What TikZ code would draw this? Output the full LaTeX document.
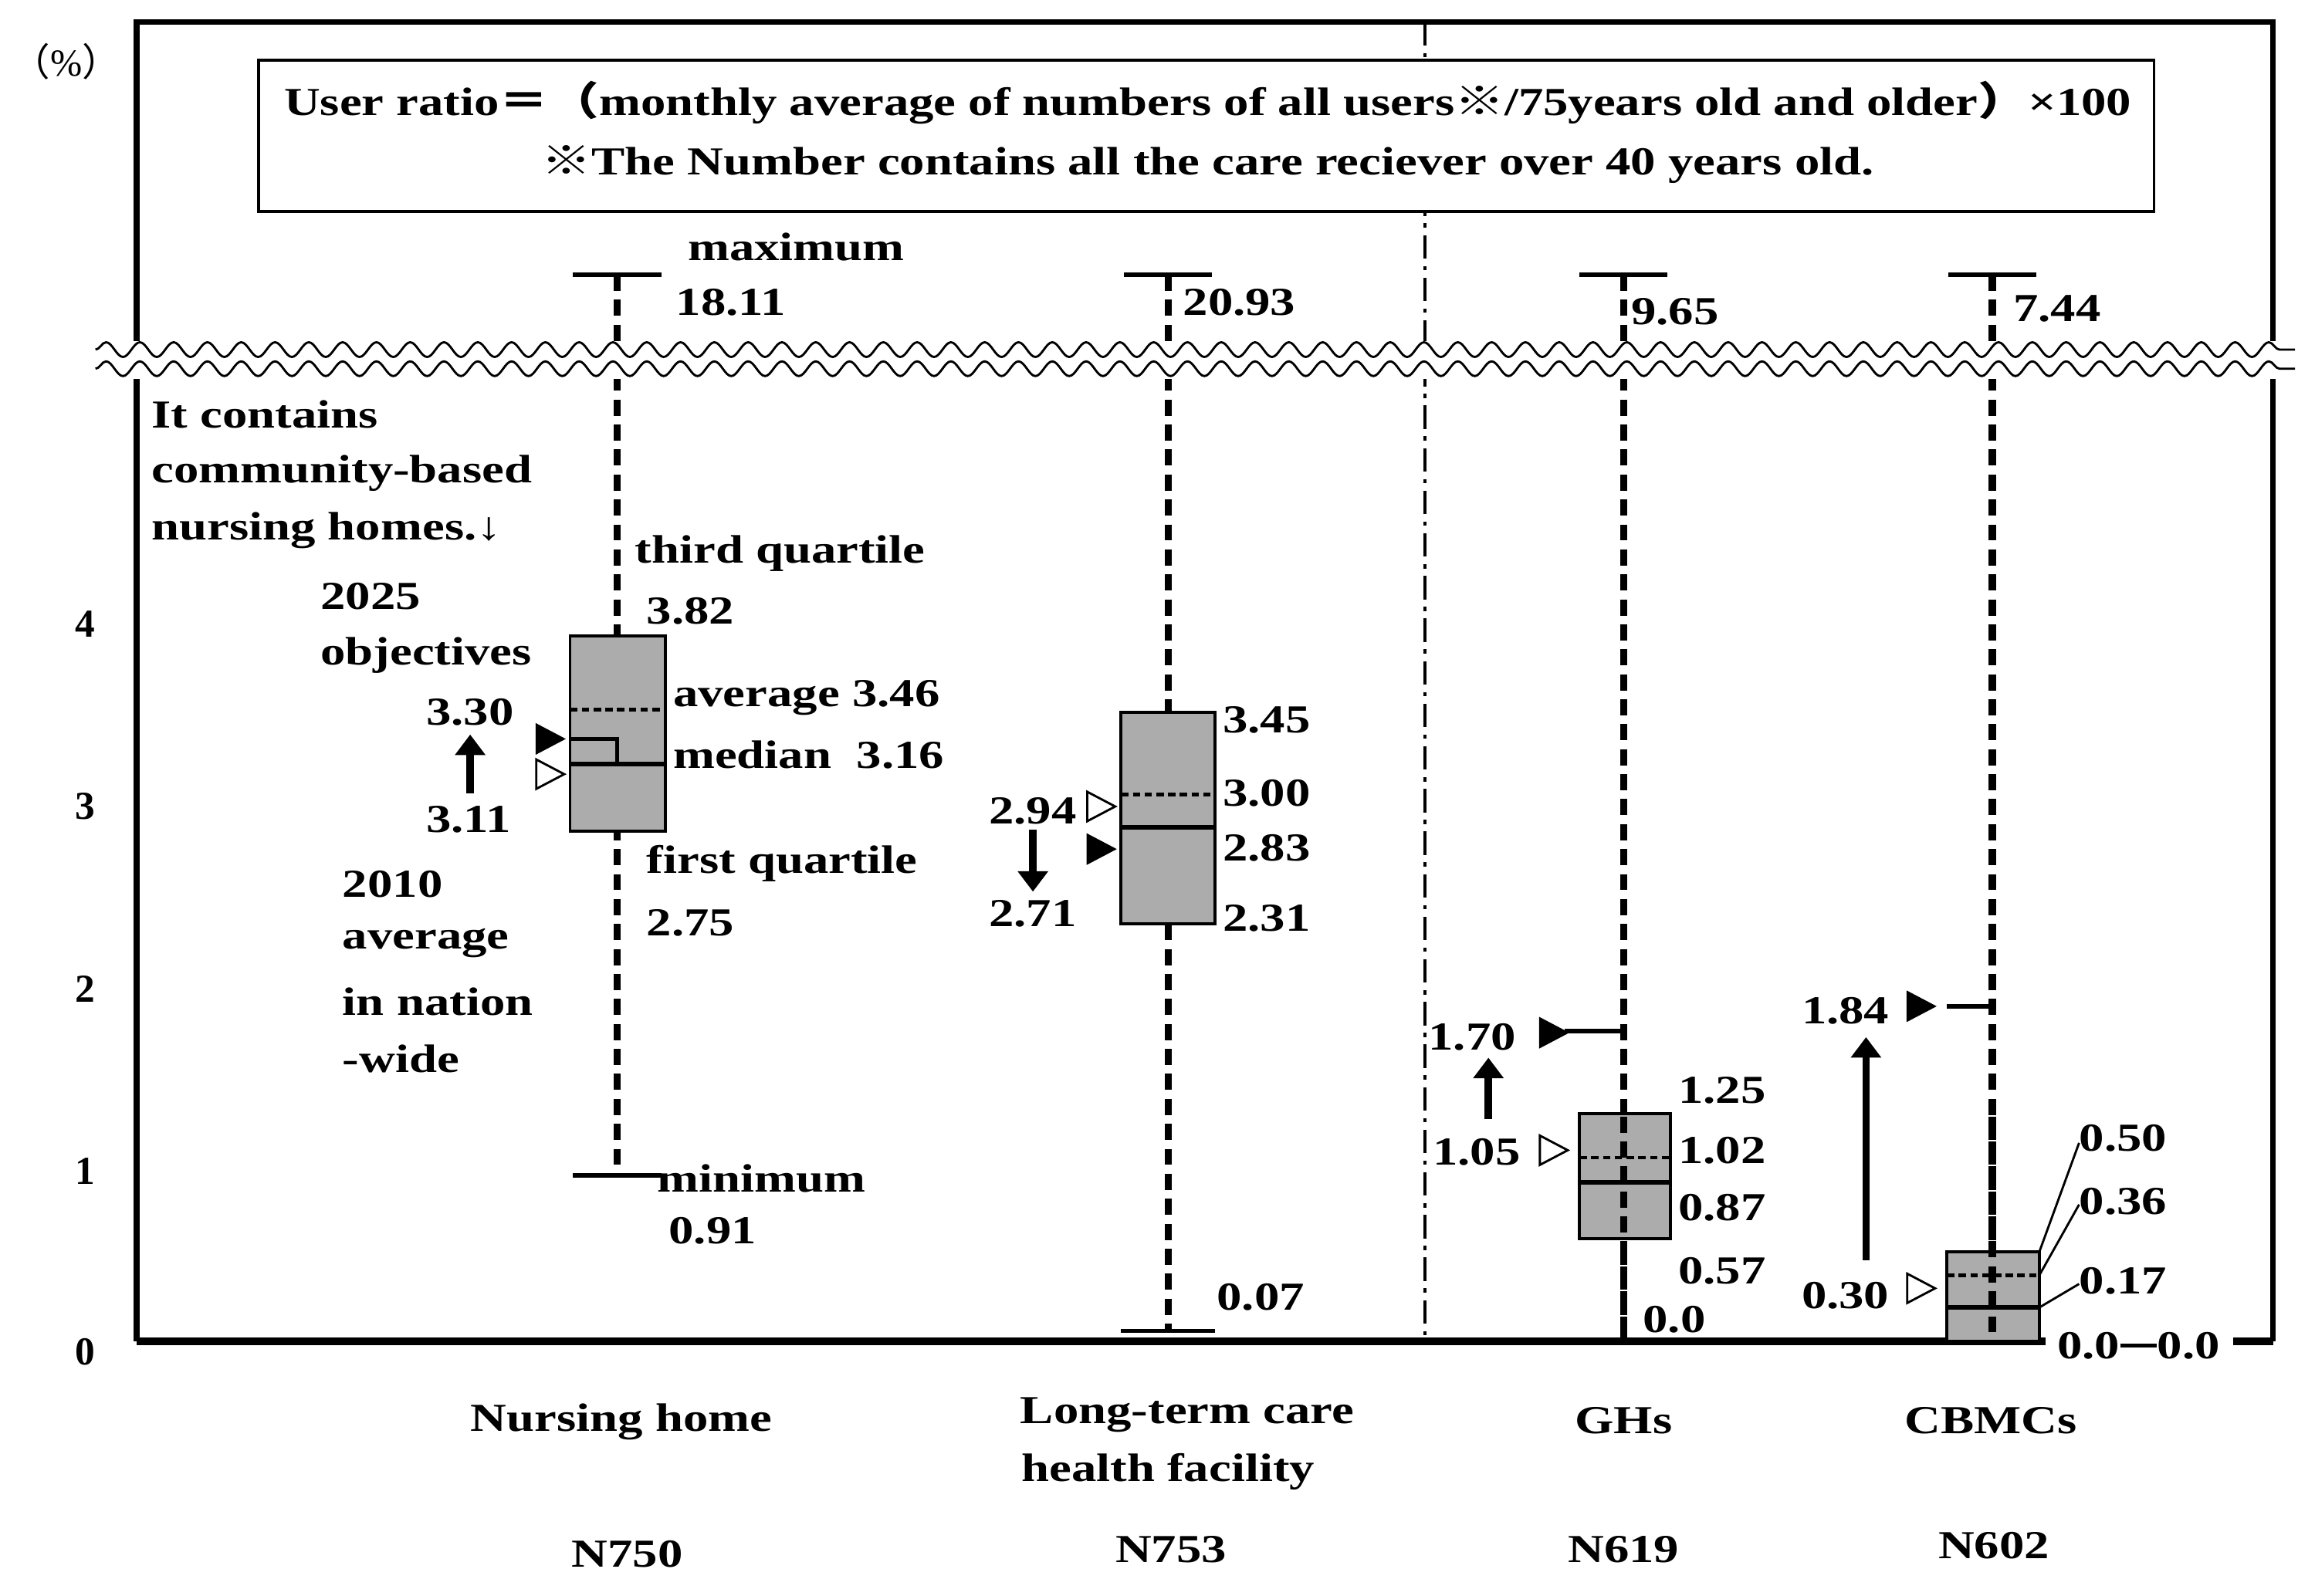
\documentclass[tikz,border=0pt]{standalone}
\usepackage{fontspec}
\setmainfont{Liberation Serif}
\newfontfamily\cjk{Noto Sans CJK JP}
\usetikzlibrary{decorations.pathmorphing,arrows.meta}
\newcommand\wtx[1]{\scalebox{1.26}[1]{#1}}
\begin{document}
\begin{tikzpicture}[x=1pt,y=-1pt,
  lbl/.style={anchor=west,inner sep=0pt,font=\fontsize{27}{30}\selectfont\bfseries},
  ctr/.style={inner sep=0pt,font=\fontsize{27}{30}\selectfont\bfseries},
  whisk/.style={line width=5pt,dash pattern=on 11pt off 6pt},
  box/.style={draw=black,line width=2pt,fill=gray!65},
  bar/.style={line width=3pt},
  med/.style={line width=3pt},
  avg/.style={line width=2.5pt,dash pattern=on 5pt off 3pt},
  tf/.style={fill=black,draw=black,line width=1pt},
  to/.style={fill=white,draw=black,line width=1.5pt},
  barrow/.style={line width=5pt,-{Triangle[length=14pt,width=20pt]}},
  wave/.style={decorate,decoration={snake,segment length=23pt,amplitude=5pt},line width=1.5pt}]
\useasboundingbox (0,0) rectangle (1564,1086);
% frame
\draw[line width=4pt] (93,913) -- (93,15) -- (1547,15) -- (1547,913);
\draw[line width=5pt] (93,913) -- (1547,913);
\draw[line width=2pt,dash pattern=on 16pt off 5pt on 3pt off 5pt] (970,15) -- (970,913);
% header
\node[draw,line width=2pt,fill=white,minimum width=1290pt,minimum height=103pt,anchor=north west] (hdr) at (175,40) {};
\node[ctr] (h1) at (822,70) {\wtx{User ratio{\cjk ＝（}monthly average of numbers of all users{\cjk ※}/75years old and older{\cjk ）}×100}};
\node[ctr] (h2) at (822,112) {\wtx{{\cjk ※}The Number contains all the care reciever over 40 years old.}};
\node[ctr] (pct) at (45,42) {\fontsize{26}{30}\selectfont\mdseries{\cjk （}\%{\cjk ）}};
% y labels
\foreach \v/\yy in {4/425,3/549,2/673,1/797,0/920} \node[ctr] (y\v) at (58,\yy) {\v};
% whiskers
\draw[whisk] (420,187) -- (420,800);
\draw[whisk] (795,187) -- (795,906);
\draw[whisk] (1105,187) -- (1105,913);
\draw[whisk] (1356,187) -- (1356,913);
% max bars
\foreach \c in {420,795,1105,1356} \draw[bar] (\c-30,187) -- (\c+30,187);
\draw[bar] (390,800) -- (450,800);
\draw[bar] (763,906) -- (827,906);
\draw[bar] (1065,702) -- (1105,702);
\draw[bar] (1325,685) -- (1356,685);
% waves
\fill[white] (60,232) rectangle (1564,258);
\draw[wave] (65,238) -- (1562,238);
\draw[wave] (65,251) -- (1562,251);
% boxes
\draw[box] (388,433) rectangle (453,566);
\draw[avg] (388,483) -- (453,483); \draw[med] (388,520) -- (453,520);
\draw[med] (388,503) -- (420,503) -- (420,520);
\draw[box] (763,485) rectangle (827,629);
\draw[avg] (763,541) -- (827,541); \draw[med] (763,563) -- (827,563);
\draw[box] (1075,758) rectangle (1137,843);
\draw[avg] (1075,788) -- (1137,788); \draw[med] (1075,805) -- (1137,805);
\draw[box] (1325,852) rectangle (1388,913);
\draw[avg] (1325,868) -- (1388,868); \draw[med] (1325,890) -- (1388,890);
\foreach \c in {1105,1356} \draw[whisk] (\c,760) -- (\c,913);
% leader lines CBMC
\draw[line width=1.5pt] (1388,852) -- (1415,778);
\draw[line width=1.5pt] (1388,868) -- (1415,820);
\draw[line width=1.5pt] (1388,890) -- (1415,874);
% triangles
\draw[tf] (365,493) -- (384,503) -- (365,513) -- cycle;
\draw[to] (365,517) -- (384,527) -- (365,537) -- cycle;
\draw[to] (740,539) -- (759,549) -- (740,559) -- cycle;
\draw[tf] (740,568) -- (759,578) -- (740,588) -- cycle;
\draw[tf] (1048,693) -- (1067,703) -- (1048,713) -- cycle;
\draw[to] (1048,773) -- (1067,783) -- (1048,793) -- cycle;
\draw[tf] (1298,675) -- (1317,685) -- (1298,695) -- cycle;
\draw[to] (1298,867) -- (1317,877) -- (1298,887) -- cycle;
% block arrows
\draw[barrow] (320,540) -- (320,500);
\draw[barrow] (703,565) -- (703,607);
\draw[barrow] (1013,762) -- (1013,720);
\draw[barrow] (1270,858) -- (1270,706);
% labels
\node[lbl] (tmax) at (468,168) {\wtx{maximum}};
\node[lbl] (t1811) at (460,206) {\wtx{18.11}};
\node[lbl] (t2093) at (805,206) {\wtx{20.93}};
\node[lbl] (t965) at (1110,212) {\wtx{9.65}};
\node[lbl] (t744) at (1370,210) {\wtx{7.44}};
\node[lbl] (ic1) at (103,282) {\wtx{It contains}};
\node[lbl] (ic2) at (103,322) {\wtx{community-based}};
\node[lbl] (ic3) at (103,361) {\wtx{nursing homes.↓}};
\node[lbl] (tq) at (432,377) {\wtx{third quartile}};
\node[lbl] (t382) at (440,416) {\wtx{3.82}};
\node[lbl] (o1) at (218,406) {\wtx{2025}};
\node[lbl] (o2) at (218,446) {\wtx{objectives}};
\node[lbl] (t330) at (290,485) {\wtx{3.30}};
\node[lbl] (tav) at (458,475) {\wtx{average 3.46}};
\node[lbl] (tmd) at (458,514) {\wtx{median\ \ 3.16}};
\node[lbl] (t311) at (290,558) {\wtx{3.11}};
\node[lbl] (fq) at (440,588) {\wtx{first quartile}};
\node[lbl] (t275) at (440,628) {\wtx{2.75}};
\node[lbl] (a1) at (233,602) {\wtx{2010}};
\node[lbl] (a2) at (233,642) {\wtx{average}};
\node[lbl] (a3) at (233,682) {\wtx{in nation}};
\node[lbl] (a4) at (233,721) {\wtx{-wide}};
\node[lbl] (tmin) at (447,802) {\wtx{minimum}};
\node[lbl] (t091) at (455,838) {\wtx{0.91}};
\node[lbl] (t345) at (832,490) {\wtx{3.45}};
\node[lbl] (t300) at (832,540) {\wtx{3.00}};
\node[lbl] (t283) at (832,577) {\wtx{2.83}};
\node[lbl] (t231) at (832,625) {\wtx{2.31}};
\node[lbl] (t294) at (673,552) {\wtx{2.94}};
\node[lbl] (t271) at (673,622) {\wtx{2.71}};
\node[lbl] (t007) at (828,883) {\wtx{0.07}};
\node[lbl] (t125) at (1142,742) {\wtx{1.25}};
\node[lbl] (t102) at (1142,783) {\wtx{1.02}};
\node[lbl] (t087) at (1142,822) {\wtx{0.87}};
\node[lbl] (t057) at (1142,865) {\wtx{0.57}};
\node[lbl] (t00g) at (1118,898) {\wtx{0.0}};
\node[lbl] (t170) at (972,706) {\wtx{1.70}};
\node[lbl] (t105) at (975,784) {\wtx{1.05}};
\node[lbl] (t184) at (1226,688) {\wtx{1.84}};
\node[lbl] (t030) at (1226,882) {\wtx{0.30}};
\node[lbl] (t050) at (1415,775) {\wtx{0.50}};
\node[lbl] (t036) at (1415,818) {\wtx{0.36}};
\node[lbl] (t017) at (1415,872) {\wtx{0.17}};
\fill[white] (1392,902) rectangle (1520,930);
\node[lbl] (t00a) at (1400,916) {\wtx{0.0}};
\node[lbl] (t00b) at (1468,916) {\wtx{0.0}};
\draw[line width=2.5pt] (t00a.east) -- (t00b.west);
% categories
\node[ctr] (c1) at (423,968) {\wtx{Nursing home}};
\node[ctr] (c2a) at (808,963) {\wtx{Long-term care}};
\node[ctr] (c2b) at (795,1002) {\wtx{health facility}};
\node[ctr] (c3) at (1105,967) {\wtx{GHs}};
\node[ctr] (c4) at (1355,967) {\wtx{CBMCs}};
\node[ctr] (n1) at (427,1058) {\wtx{N750}};
\node[ctr] (n2) at (797,1055) {\wtx{N753}};
\node[ctr] (n3) at (1105,1055) {\wtx{N619}};
\node[ctr] (n4) at (1357,1052) {\wtx{N602}};
\end{tikzpicture}
\end{document}
